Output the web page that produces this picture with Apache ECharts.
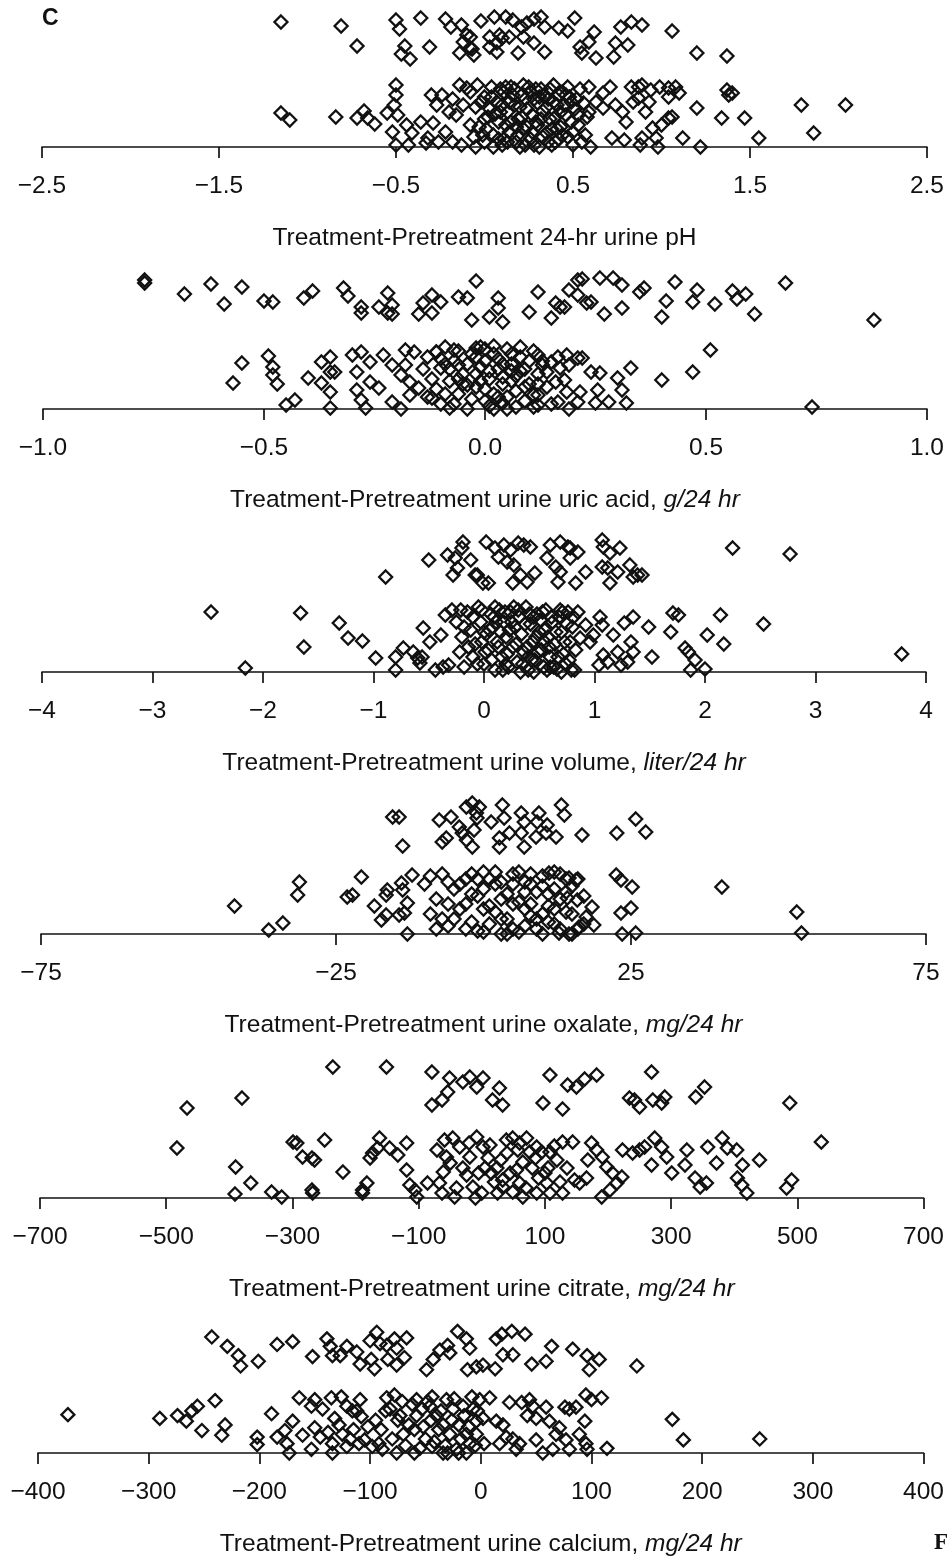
<!DOCTYPE html>
<html>
<head>
<meta charset="utf-8">
<script src="https://cdn.jsdelivr.net/npm/echarts@6/dist/echarts.min.js"></script>
<style>
html, body { margin: 0; padding: 0; background: #fff; }
#chart { width: 947px; height: 1558px; }
</style>
</head>
<body>
<div id="chart"></div>
<script>
// each point: [difference value, vertical jitter above the axis]
const phPoints = [
  [-1.15,125],[-0.81,121],[-0.72,101],[-0.50,127],[-0.48,118],[-0.36,129],[-0.45,101],[-0.47,93],[-0.42,88],[-0.31,100],
  [-0.19,120],[-0.13,122],[-0.10,112],[-0.12,105],[-0.14,94],[-0.08,99],[-0.06,92],[-0.08,110],[-0.07,98],[0.056,130],
  [0.12,130],[0.03,110],[0.085,112],[0.10,109],[0.07,104],[0.14,110],[0.03,100],[0.07,95],[0.19,94],[0.21,120],
  [0.24,124],[0.22,110],[0.28,104],[0.32,130],[0.34,120],[0.34,95],[0.42,119],[0.47,116],[0.51,129],[0.54,100],
  [0.55,94],[0.59,105],[0.62,115],[0.63,89],[0.77,120],[0.83,125],[0.89,122],[0.74,104],[0.81,102],[0.73,90],
  [1.06,116],[1.20,94],[1.37,91],[-0.22,128],[-0.02,126],[0.16,127],[0.28,128],
  [-1.15,34],[-1.10,27],[-0.84,30],[-0.72,29],[-0.68,36],[-0.66,29],[-0.62,23],
  [-0.50,62],[-0.50,52],[-0.51,42],[-0.55,34],[-0.49,32],[-0.52,15],[-0.50,2],[-0.44,22],[-0.43,2],[-0.41,14],
  [-0.36,25],[-0.32,9],[-0.29,24],[-0.30,52],[-0.24,52],[-0.27,42],[-0.33,4],[-0.14,62],[-0.10,59],[-0.12,42],
  [-0.16,32],[-0.18,5],[-0.13,2],[-0.22,15],[-0.20,35],[-0.26,5],[-0.18,48],[-0.08,22],[-0.05,0],
  [-0.08,55],[-0.05,40],[-0.03,20],[0.0,5],[0.0,50],[0.02,30],[0.04,60],[0.05,12],[0.07,45],[0.08,25],
  [0.10,2],[0.11,55],[0.13,35],[0.14,15],[0.15,60],[0.17,42],[0.18,5],[0.19,28],[0.21,52],[0.22,18],
  [0.24,38],[0.25,60],[0.26,8],[0.28,48],[0.29,25],[0.31,0],[0.32,58],[0.33,36],[0.35,14],[0.36,48],
  [0.37,28],[0.39,62],[0.40,5],[0.41,42],[0.43,20],[0.44,55],[0.46,32],[0.47,10],[0.48,50],[0.50,2],
  [0.51,38],[0.53,22],[0.54,58],[0.56,44],[0.57,12],[0.58,30],[0.60,0],[-0.06,10],[0.03,38],[0.12,22],
  [0.20,40],[0.27,32],[0.34,52],[0.42,8],[0.49,45],[0.16,52],[0.09,58],[0.23,2],[0.30,44],[0.38,18],
  [-0.02,45],[0.01,18],[0.04,50],[0.06,33],[0.08,8],[0.10,42],[0.12,60],[0.13,5],[0.15,25],[0.17,58],
  [0.19,12],[0.21,30],[0.23,48],[0.24,20],[0.26,55],[0.28,2],[0.30,22],[0.31,50],[0.33,10],[0.35,40],
  [0.37,58],[0.38,2],[0.40,30],[0.42,52],[0.44,12],[0.45,42],[0.47,60],[0.49,25],[0.52,48],[0.55,5],
  [0.0,28],[0.05,0],[0.09,35],[0.14,45],[0.18,20],[0.22,62],[0.27,15],[0.32,28],[0.36,5],[0.41,18],
  [0.46,52],[0.50,15],[-0.04,62],[-0.01,12],[0.11,8],[0.20,0],[0.29,58],[0.39,45],[0.43,35],[0.53,32],
  [0.59,60],[0.71,60],[0.67,54],[0.63,45],[0.59,35],[0.67,39],[0.74,42],[0.78,35],[0.80,25],[0.72,9],[0.79,7],
  [0.83,60],[0.87,60],[0.89,62],[0.84,45],[0.87,49],[0.94,57],[0.93,45],[0.91,35],[0.99,60],[1.04,59],
  [1.08,60],[1.04,50],[1.10,54],[1.04,29],[1.00,22],[0.95,19],[0.97,9],[0.89,9],[0.88,2],[0.98,0],
  [1.06,30],[1.12,9],[1.22,0],[1.20,39],[1.34,29],[1.37,57],[1.40,54],[1.38,52],[1.47,29],[1.55,9],
  [1.79,42],[1.86,14],[2.04,42]
];

const uricPoints = [
  [-0.77,129],[-0.77,126],[-0.68,115],[-0.62,125],[-0.59,105],[-0.55,122],[-0.50,108],[-0.48,107],[-0.41,111],[-0.39,118],
  [-0.32,121],[-0.31,113],[-0.28,102],[-0.28,96],[-0.24,102],[-0.22,116],[-0.21,104],[-0.22,96],[-0.21,95],[-0.15,95],
  [-0.14,106],[-0.12,114],[-0.10,107],[-0.12,96],[-0.06,112],[-0.04,111],[-0.03,89],[-0.02,128],
  [0.01,92],[0.03,111],[0.03,101],[0.04,87],[0.10,97],[0.12,117],[0.15,91],[0.16,106],[0.17,102],[0.18,102],
  [0.19,119],[0.21,129],[0.22,130],[0.21,114],[0.23,106],[0.24,107],[0.26,131],[0.27,95],[0.29,131],[0.31,124],
  [0.31,101],[0.35,117],[0.36,121],[0.40,92],[0.41,108],[0.43,127],[0.47,107],[0.48,119],[0.52,105],[0.56,118],
  [0.57,110],[0.59,115],[0.61,95],[0.68,126],[0.88,89],
  [-0.55,46],[-0.57,26],[-0.49,53],[-0.48,42],[-0.48,34],[-0.47,25],[-0.45,4],[-0.43,9],[-0.40,31],[-0.37,47],
  [-0.35,52],[-0.35,37],[-0.34,37],[-0.37,26],[-0.35,17],[-0.35,1],[-0.30,54],[-0.28,57],[-0.26,47],[-0.29,37],
  [-0.26,27],[-0.29,19],[-0.28,9],[-0.27,1],[-0.23,54],[-0.21,44],[-0.24,21],[-0.21,7],[-0.19,0],[-0.18,59],
  [-0.16,57],[-0.18,44],[-0.19,34],[-0.17,27],[-0.15,21],[-0.17,14],[-0.11,57],[-0.07,59],[-0.10,41],[-0.12,11],
  [-0.08,1],[-0.06,44],[-0.04,24],[-0.02,61],
  [-0.12,30],[-0.10,50],[-0.09,15],[-0.08,40],[-0.07,5],[-0.06,58],[-0.05,25],[-0.04,45],[-0.03,10],[-0.02,35],
  [-0.01,62],[0.0,20],[0.0,48],[0.01,3],[0.01,30],[0.02,55],[0.03,40],[0.03,12],[0.04,25],[0.05,60],
  [0.05,0],[0.06,45],[0.07,18],[0.07,33],[0.08,52],[0.09,8],[0.09,40],[0.10,25],[0.11,58],[0.11,14],
  [0.12,35],[0.13,48],[0.14,22],[0.15,5],[-0.13,12],[-0.11,57],[0.02,63],[0.06,28],[-0.02,52],[0.04,6],
  [-0.14,40],[-0.13,52],[-0.11,20],[-0.10,5],[-0.09,62],[-0.08,28],[-0.07,48],[-0.06,15],[-0.05,35],[-0.04,0],
  [-0.03,55],[-0.02,22],[-0.01,42],[0.0,8],[0.0,60],[0.01,38],[0.02,15],[0.03,50],[0.04,32],[0.05,12],
  [0.06,55],[0.07,2],[0.08,38],[0.09,22],[0.10,48],[0.11,2],[0.12,25],[-0.06,30],[-0.01,28],[0.04,45],
  [0.08,62],[-0.09,45],[0.02,0],[0.06,38],
  [0.12,54],[0.13,44],[0.14,37],[0.12,14],[0.12,4],[0.15,47],[0.165,52],[0.185,54],[0.17,41],[0.19,44],
  [0.21,51],[0.18,29],[0.16,27],[0.185,17],[0.165,7],[0.19,0],[0.215,17],[0.21,7],[0.22,51],[0.24,37],
  [0.26,36],[0.255,19],[0.25,6],[0.28,7],[0.30,31],[0.31,19],[0.33,41],[0.32,6],[0.40,29],[0.47,37],
  [0.51,59],[0.74,2]
];

const volumePoints = [
  [-0.19,130],[-0.20,124],[-0.33,117],[-0.26,114],[-0.12,112],[-0.24,104],[-0.28,97],[-0.50,112],[-0.89,95],[-0.06,97],
  [0.02,130],[0.10,124],[0.13,115],[0.18,127],[0.24,122],[0.31,129],[0.36,127],[0.42,125],[0.21,110],[0.27,107],
  [0.33,97],[0.26,89],[0.39,90],[0.46,99],[-0.08,97],[-0.01,89],[0.04,89],
  [0.60,127],[0.69,130],[0.78,124],[0.85,120],[0.57,114],[0.65,105],[0.69,100],[0.78,114],[0.67,90],[0.83,89],
  [0.92,100],[0.76,125],[1.07,132],[1.08,125],[1.23,124],[1.14,119],[1.07,105],[1.12,104],[1.21,100],[1.32,107],
  [1.39,97],[1.43,97],[1.14,89],[1.35,95],[2.25,124],[2.77,118],
  [-2.47,60],[-1.66,59],[-1.63,25],[-1.31,49],[-1.23,34],[-1.10,31],[-0.98,14],[-2.16,4],
  [-0.80,15],[-0.80,2],[-0.73,24],[-0.64,20],[-0.60,14],[-0.56,15],[-0.55,44],[-0.49,30],[-0.58,9],[-0.44,2],
  [-0.37,5],[-0.32,7],[-0.35,57],[-0.39,37],[-0.29,62],[-0.21,62],
  [-0.25,50],[-0.22,20],[-0.20,35],[-0.18,5],[-0.15,60],[-0.12,42],[-0.10,15],[-0.08,28],[-0.05,65],[-0.03,50],
  [0.0,8],[0.02,38],[0.04,22],[0.06,58],[0.08,45],[0.10,2],[0.12,30],[0.14,62],[0.16,15],[0.18,50],
  [0.20,35],[0.22,5],[0.24,60],[0.26,25],[0.28,45],[0.30,10],[0.32,55],[0.34,38],[0.36,20],[0.38,65],
  [0.40,2],[0.42,48],[0.44,30],[0.46,12],[0.48,58],[0.50,40],[0.52,22],[0.54,5],[0.56,62],[0.58,35],
  [0.60,15],[0.62,50],[0.64,28],[0.66,3],[0.68,55],[0.70,40],[0.72,18],[0.74,8],[0.76,60],[0.78,30],
  [0.80,45],[0.82,2],[-0.02,30],[0.15,40],[0.33,0],[0.51,52],[0.71,60],[0.09,55],[0.27,65],[0.45,55],[0.63,5],
  [-0.18,45],[-0.14,25],[-0.10,55],[-0.06,8],[-0.02,62],[0.01,20],[0.05,42],[0.07,12],[0.11,50],[0.13,25],
  [0.17,2],[0.19,60],[0.21,18],[0.23,42],[0.25,50],[0.29,28],[0.31,62],[0.35,8],[0.37,48],[0.39,25],
  [0.41,58],[0.43,12],[0.47,35],[0.49,20],[0.53,60],[0.55,42],[0.57,2],[0.59,25],[0.61,55],[0.65,40],
  [0.67,15],[0.69,62],[0.73,30],[0.75,48],[0.77,12],[0.79,2],[0.81,55],[0.83,22],[0.0,40],[0.2,8],
  [0.4,15],[0.6,5],[0.7,0],[0.45,0],[0.55,30],[0.1,65],
  [0.85,60],[0.92,47],[0.87,34],[0.96,30],[1.05,55],[1.07,47],[0.99,37],[1.08,17],[1.12,10],[1.04,7],
  [1.17,37],[1.21,20],[1.24,7],[1.27,49],[1.35,55],[1.33,30],[1.35,20],[1.30,10],[1.49,45],[1.52,15],
  [1.71,59],[1.76,57],[1.69,40],[1.82,24],[1.85,20],[1.91,12],[1.87,2],[2.00,3],[2.02,37],[2.14,57],
  [2.17,28],[2.53,48],[3.78,18]
];

const oxalatePoints = [
  [-15.4,117],[-14.3,117],[-13.7,88],[-7.5,114],[-5.5,117],[-6.3,96],[-7.0,92],[-4.1,107],[-2.9,127],[-1.9,131],
  [-2.9,94],[-1.9,87],[-3.6,101],[-1.2,121],[-0.7,127],[-1.6,104],[-1.1,116],
  [1.3,112],[3.2,129],[3.5,116],[2.7,96],[2.7,87],[4.4,101],[6.4,121],[6.9,112],[6.4,101],
  [6.9,87],[8.9,97],[9.4,121],[9.1,112],[10.8,109],[10.6,101],[12.3,97],[13.2,129],[13.7,119],[16.7,99],
  [22.6,101],[25.8,115],[27.5,102],
  [-42.2,28],[-36.4,4],[-34.0,11],[-31.2,52],[-31.5,39],[-20.7,57],[-23.1,37],[-22.2,39],
  [-18.5,28],[-17.3,14],[-16.5,19],[-16.3,44],[-16.5,39],[-13.9,51],[-13.7,44],[-14.3,19],[-13.4,21],[-12.9,0],
  [-12.1,59],[-12.9,31],
  [-10,50],[-9,20],[-8,35],[-7,60],[-6,8],[-5,45],[-4,25],[-3,55],[-2,12],[-1,38],
  [0,62],[0,2],[1,28],[2,50],[3,15],[4,40],[5,60],[5,5],[6,32],[7,52],
  [8,18],[9,42],[10,0],[10,58],[11,28],[12,45],[12,10],[13,60],[14,22],[15,48],
  [16,5],[17,38],[-8,5],[-5,15],[-3,30],[-1,3],[1,55],[3,35],[6,62],[8,50],
  [11,12],[13,35],[-6,52],[-2,60],[4,0],[7,25],[9,5],[14,55],
  [-9,58],[-7,15],[-4,50],[-3,5],[-2,40],[0,25],[0,45],[1,10],[2,62],[2,22],
  [3,52],[4,15],[5,30],[6,2],[7,42],[8,60],[8,30],[9,15],[10,48],[11,40],
  [12,62],[12,25],[13,5],[14,42],[15,20],[16,55],[17,10],[-6,30],[-1,55],[3,0],
  [7,8],[10,20],[15,0],[5,50],
  [11.1,61],[14.5,56],[15.7,54],[14.2,36],[15.9,34],[18.4,27],[17.4,17],[18.7,9],[16.2,7],[14.5,0],[12.8,1],
  [22.5,59],[23.3,54],[25.2,47],[23.3,21],[25.0,26],[23.5,0],[25.8,1],[40.4,47],[53.1,22],[53.9,1]
];

const citratePoints = [
  [-236,131],[-151,131],[-380,100],[-467,90],[-79,126],[-51,120],[-30,116],[-19,121],[-54,106],[-63,98],
  [-79,93],[-8,111],[2,120],[28,110],[17,98],[33,93],
  [108,123],[97,95],[128,89],[136,113],[150,111],[163,119],[182,123],
  [234,100],[242,98],[250,91],[269,126],[271,98],[285,95],[290,101],[339,101],[353,111],[488,95],
  [-483,50],[-390,31],[-366,15],[-391,4],[-333,6],[-317,1],[-299,56],[-293,55],[-284,41],[-269,40],
  [-265,38],[-249,58],[-269,8],[-268,5],[-220,26],[-189,8],[-182,15],[-189,5],
  [-177,40],[-173,45],[-165,50],[-162,60],[-146,50],[-133,43],[-119,55],[-119,28],[-114,13],[-106,8],[-103,1],
  [-86,15],[-67,15],[-63,5],[-71,48],[-59,58],[-56,41],[-46,60],[-35,51],[-61,26],[-43,1],
  [-24,23],[-14,11],[-8,61],[-19,41],
  [2,51],[13,53],[24,30],[33,18],[39,58],[49,60],[57,48],[65,36],[71,60],[76,46],
  [87,51],[95,46],[108,46],[119,38],[105,30],[124,16],[103,15],[87,5],[65,1],[49,6],
  [33,11],[20,16],[128,56],[144,56],[147,18],[128,5],[108,5],
  [-30,30],[-40,10],[-5,25],[10,40],[-20,55],[0,5],[45,25],[60,15],[80,30],[90,20],[30,38],[15,25],[-50,35],[-10,0],
  [5,30],[25,5],[40,45],[55,28],[70,10],[85,40],[100,25],[115,52],[135,30],[60,55],
  [168,38],[174,55],[182,48],[191,41],[198,31],[207,25],[222,21],[214,15],[203,8],[190,1],
  [166,20],[155,15],[223,48],[239,45],[250,48],[258,51],[274,60],[285,51],[269,33],[293,41],
  [301,25],[325,48],[322,33],[338,20],[346,11],[356,15],
  [358,51],[372,35],[381,60],[389,50],[404,48],[413,33],[405,20],[412,13],[420,5],[440,38],
  [483,10],[491,18],[538,56]
];

const calciumPoints = [
  [-243,124],[-229,114],[-219,104],[-217,93],[-201,98],[-184,116],[-170,119],
  [-152,103],[-139,122],[-136,114],[-134,104],[-127,104],[-121,114],[-112,108],[-109,95],[-100,120],
  [-94,129],[-91,117],[-99,100],[-96,90],[-85,115],[-84,100],[-78,122],[-76,112],[-67,123],[-69,102],[-76,94],
  [-49,89],[-43,100],[-37,110],[-30,115],[-28,107],[-21,130],[-13,122],[-10,112],[-12,89],[-4,92],
  [2,94],[13,90],[14,122],[19,127],[28,130],[40,127],[20,105],[29,105],[46,95],[59,98],
  [64,114],[83,111],[96,104],[107,100],[98,89],[141,93],
  [-373,41],[-290,37],[-274,40],[-266,34],[-261,45],[-256,50],[-252,24],[-240,56],[-231,30],[-234,19],
  [-202,17],[-202,9],[-189,42],[-184,17],[-177,24],[-175,10],[-173,0],[-170,34],[-164,59],[-161,19],
  [-153,50],[-150,27],[-145,17],[-153,4],[-150,57],
  [-143,47],[-135,59],[-126,60],[-121,50],[-132,37],[-116,45],[-109,57],[-108,39],[-134,10],[-121,7],
  [-134,0],[-105,14],[-98,7],[-85,59],[-78,62],[-71,55],[-82,47],[-73,40],[-89,4],[-76,0],
  [-58,57],[-53,47],[-46,50],[-40,40],[-31,57],[-25,47],[-34,30],[-28,20],[-44,7],[-34,0],
  [-22,4],[-13,20],[-7,47],[-4,34],[-13,0],
  [-60,25],[-50,15],[-45,35],[-38,25],[-20,30],[-15,40],[-10,10],[-55,5],[-65,30],[-90,25],
  [-95,35],[-115,25],[-125,20],[-110,10],[-80,15],[-70,20],
  [-58,40],[-52,28],[-48,55],[-42,12],[-36,45],[-32,8],[-26,35],[-24,58],[-18,15],[-16,50],
  [-11,28],[-8,60],[-5,8],[-3,45],[-62,52],[-68,8],[-75,35],[-86,45],[-92,10],[-102,28],
  [-112,45],[-118,15],[-128,30],[-138,22],[-30,0],[-44,60],[-20,0],[-60,0],
  [-1,57],[8,59],[2,37],[-4,20],[3,10],[14,34],[20,30],[23,17],[17,10],[29,15],
  [35,10],[32,4],[26,54],[37,54],[44,57],[47,50],[42,40],[50,37],[59,49],[62,34],
  [50,14],[56,0],[65,4],[71,27],[68,20],[76,49],[80,47],[86,49],[77,14],[80,4],
  [89,20],[94,34],[95,62],[100,57],[109,59],[95,10],[96,4],[114,5],[173,36],[183,14],[252,15]
];

const phTicks = [-2.5, -1.5, -0.5, 0.5, 1.5, 2.5];
const uricTicks = [-1.0, -0.5, 0.0, 0.5, 1.0];
const volumeTicks = [-4, -3, -2, -1, 0, 1, 2, 3, 4];
const oxalateTicks = [-75, -25, 25, 75];
const citrateTicks = [-700, -500, -300, -100, 100, 300, 500, 700];
const calciumTicks = [-400, -300, -200, -100, 0, 100, 200, 300, 400];

const axisTitles = [
  'Treatment-Pretreatment 24-hr urine pH',
  'Treatment-Pretreatment urine uric acid, {i|g/24 hr}',
  'Treatment-Pretreatment urine volume, {i|liter/24 hr}',
  'Treatment-Pretreatment urine oxalate, {i|mg/24 hr}',
  'Treatment-Pretreatment urine citrate, {i|mg/24 hr}',
  'Treatment-Pretreatment urine calcium, {i|mg/24 hr}'
];

const FONT = '"Liberation Sans", Arial, Helvetica, sans-serif';
const INK = '#111';
const BAND = 140;
const TEXT_SIZE = 24.5;

// layout of each strip: left edge, width, y of the axis line
const panels = [
  { data: phPoints, ticks: phTicks, digits: 1, left: 42, width: 886, axisY: 147 },
  { data: uricPoints, ticks: uricTicks, digits: 1, left: 43, width: 884, axisY: 409 },
  { data: volumePoints, ticks: volumeTicks, digits: 0, left: 42, width: 884, axisY: 672 },
  { data: oxalatePoints, ticks: oxalateTicks, digits: 0, left: 41, width: 885, axisY: 934 },
  { data: citratePoints, ticks: citrateTicks, digits: 0, left: 40, width: 884, axisY: 1198 },
  { data: calciumPoints, ticks: calciumTicks, digits: 0, left: 38, width: 886, axisY: 1462 }
];

let grid = [], xAxis = [], yAxis = [], series = [];
panels.forEach((p, i) => {
  grid.push({ left: p.left, width: p.width, top: p.axisY - BAND, height: BAND });
  xAxis.push({
    gridIndex: i,
    type: 'value',
    min: p.ticks[0],
    max: p.ticks[p.ticks.length - 1],
    splitLine: { show: false },
    axisLine: { onZero: false, lineStyle: { color: INK, width: 1.7 } },
    axisTick: { show: true, length: 11, customValues: p.ticks, lineStyle: { color: INK, width: 1.7 } },
    axisLabel: {
      customValues: p.ticks,
      margin: 27,
      fontSize: TEXT_SIZE,
      fontFamily: FONT,
      color: INK,
      formatter: v => v.toFixed(p.digits).replace('-', '\u2212')
    },
    name: axisTitles[i],
    nameLocation: 'middle',
    nameGap: 79,
    nameTextStyle: {
      fontSize: TEXT_SIZE,
      fontFamily: FONT,
      color: INK,
      rich: { i: { fontSize: TEXT_SIZE, fontFamily: FONT, fontStyle: 'italic', color: INK } }
    }
  });
  yAxis.push({ gridIndex: i, type: 'value', min: 0, max: BAND, show: false });
  series.push({
    type: 'scatter',
    xAxisIndex: i,
    yAxisIndex: i,
    symbol: 'diamond',
    symbolSize: 13,
    clip: false,
    silent: true,
    itemStyle: { color: 'rgba(0,0,0,0)', borderColor: INK, borderWidth: 2.3, opacity: 1 },
    data: p.data
  });
});

const chart = echarts.init(document.getElementById('chart'));
chart.setOption({
  animation: false,
  backgroundColor: '#fff',
  grid: grid,
  xAxis: xAxis,
  yAxis: yAxis,
  series: series,
  graphic: [
    { type: 'text', left: 42, top: 7, style: { text: 'C', fontSize: 23, fontWeight: 'bold', fontFamily: FONT, fill: INK } },
    { type: 'text', left: 934, top: 1532, style: { text: 'F', fontSize: 23, fontWeight: 'bold', fontFamily: '"Liberation Serif", serif', fill: INK } }
  ]
});
</script>
</body>
</html>
